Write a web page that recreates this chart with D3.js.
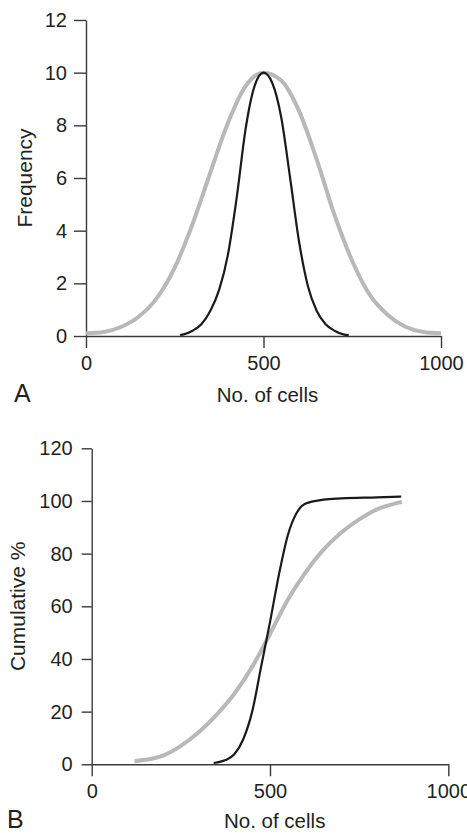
<!DOCTYPE html>
<html>
<head>
<meta charset="utf-8">
<script src="https://cdn.jsdelivr.net/npm/d3@7/dist/d3.min.js"></script>
<style>
  html, body { margin: 0; padding: 0; background: #fff; }
  svg { display: block; }
  text { font-family: "Liberation Sans", Arial, Helvetica, sans-serif; fill: #231f20; }
</style>
</head>
<body>
<svg id="chart" width="467" height="833"></svg>
<script>
// ---------- Panel A: frequency distributions ----------
const freqWideX = [0, 50, 100, 150, 200, 250, 300, 350, 400, 450, 500, 550, 600, 650, 700, 750, 800, 850, 900, 950, 1000];
const freqWideY = [0.1, 0.15, 0.35, 0.75, 1.45, 2.6, 4.25, 6.2, 8.1, 9.5, 10, 9.7, 8.55, 6.7, 4.6, 2.85, 1.55, 0.8, 0.35, 0.15, 0.1];

const freqNarrowX = [265, 275, 300, 325, 350, 375, 400, 425, 450, 475, 500, 525, 550, 575, 600, 625, 650, 675, 700, 725, 740];
const freqNarrowY = [0.03, 0.06, 0.2, 0.45, 0.95, 1.75, 3.1, 5.3, 7.9, 9.5, 10, 9.6, 8.3, 6.0, 3.6, 1.9, 0.95, 0.45, 0.2, 0.06, 0.03];

const aXTicks = [0, 500, 1000];
const aYTicks = [0, 2, 4, 6, 8, 10, 12];

// ---------- Panel B: cumulative distributions ----------
const cumWideX = [120, 150, 200, 250, 300, 350, 400, 450, 500, 550, 600, 650, 700, 750, 800, 850, 870];
const cumWideY = [1.2, 1.7, 3.3, 7.0, 12.2, 18.8, 26.8, 37, 49.5, 62.5, 73, 81.5, 88, 93, 96.8, 99, 99.6];

const cumNarrowX = [342, 375, 400, 425, 450, 475, 500, 525, 550, 575, 600, 650, 700, 800, 868];
const cumNarrowY = [0.5, 1.6, 3.8, 9.5, 20, 37, 54, 72, 87, 95.5, 99, 100.5, 101, 101.4, 101.7];

const bXTicks = [0, 500, 1000];
const bYTicks = [0, 20, 40, 60, 80, 100, 120];

const svg = d3.select("#chart");
const AXIS_COLOR = "#3a3a3a";
const GRAY = "#b8b8b8";
const BLACK = "#1a1a1a";

function styleAxis(g) {
  g.select(".domain").attr("stroke", AXIS_COLOR).attr("stroke-width", 1.4);
  g.selectAll(".tick line").attr("stroke", AXIS_COLOR).attr("stroke-width", 1.4);
  g.selectAll(".tick text")
    .attr("fill", "#231f20")
    .style("font-size", "20px")
    .style("font-family", '"Liberation Sans", Arial, Helvetica, sans-serif');
}

function panel(cfg) {
  const x = d3.scaleLinear().domain([0, 1000]).range(cfg.xRange);
  const y = d3.scaleLinear().domain(cfg.yDomain).range(cfg.yRange);

  const gx = svg.append("g")
    .attr("transform", `translate(0,${cfg.yRange[0]})`)
    .call(d3.axisBottom(x).tickValues(cfg.xTicks).tickSize(cfg.xTickSize).tickSizeOuter(0).tickPadding(cfg.xPad).tickFormat(d3.format("d")));
  styleAxis(gx);

  const gy = svg.append("g")
    .attr("transform", `translate(${cfg.xRange[0]},0)`)
    .call(d3.axisLeft(y).tickValues(cfg.yTicks).tickSize(cfg.yTickSize).tickSizeOuter(0).tickPadding(cfg.yPad).tickFormat(d3.format("d")));
  styleAxis(gy);

  const line = d3.line()
    .x(d => x(d[0]))
    .y(d => y(d[1]))
    .curve(d3.curveMonotoneX);

  svg.append("path")
    .datum(d3.zip(cfg.wideX, cfg.wideY))
    .attr("fill", "none")
    .attr("stroke", GRAY)
    .attr("stroke-width", 4)
    .attr("d", line);

  svg.append("path")
    .datum(d3.zip(cfg.narrowX, cfg.narrowY))
    .attr("fill", "none")
    .attr("stroke", BLACK)
    .attr("stroke-width", 2.2)
    .attr("d", line);

  // y axis title
  const yMid = (cfg.yRange[0] + cfg.yRange[1]) / 2;
  svg.append("text")
    .attr("transform", `translate(${cfg.yTitleX},${yMid}) rotate(-90)`)
    .attr("text-anchor", "middle")
    .style("font-size", "21px")
    .text(cfg.yTitle);

  // x axis title
  svg.append("text")
    .attr("x", cfg.xTitleX)
    .attr("y", cfg.xTitleY)
    .attr("text-anchor", "middle")
    .style("font-size", "20.5px")
    .text("No. of cells");

  // panel letter
  svg.append("text")
    .attr("x", cfg.letterX)
    .attr("y", cfg.letterY)
    .style("font-size", "25px")
    .text(cfg.letter);
}

panel({
  xRange: [86, 441], yRange: [336, 20], yDomain: [0, 12],
  xTicks: aXTicks, yTicks: aYTicks,
  xTickSize: 12, yTickSize: 12, xPad: 8, yPad: 7,
  wideX: freqWideX, wideY: freqWideY, narrowX: freqNarrowX, narrowY: freqNarrowY,
  yTitle: "Frequency", yTitleX: 32,
  xTitleX: 267.5, xTitleY: 401.5,
  letter: "A", letterX: 14, letterY: 401.5
});

panel({
  xRange: [91.7, 448.3], yRange: [764.3, 448.3], yDomain: [0, 120],
  xTicks: bXTicks, yTicks: bYTicks,
  xTickSize: 12, yTickSize: 10, xPad: 8, yPad: 9,
  wideX: cumWideX, wideY: cumWideY, narrowX: cumNarrowX, narrowY: cumNarrowY,
  yTitle: "Cumulative %", yTitleX: 25,
  xTitleX: 274.7, xTitleY: 828,
  letter: "B", letterX: 7, letterY: 828
});
</script>
</body>
</html>
